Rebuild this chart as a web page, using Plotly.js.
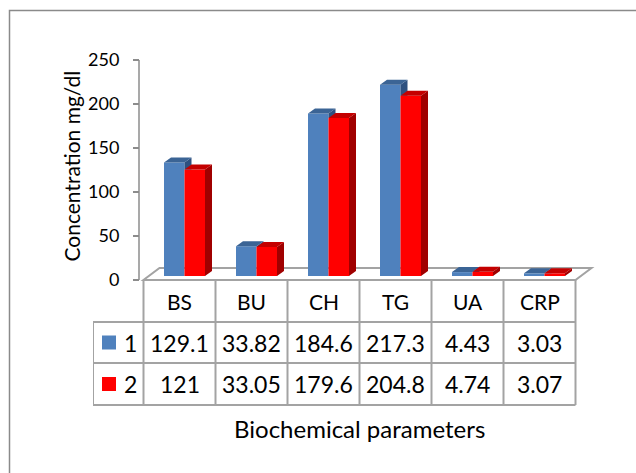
<!DOCTYPE html>
<html>
<head>
<meta charset="utf-8">
<script src="https://cdn.plot.ly/plotly-3.0.1.min.js"></script>
<style>
html,body{margin:0;padding:0;background:#fff;}
#chart{width:636px;height:473px;}
</style>
</head>
<body>
<div id="chart"></div>
<script>
// ---- data ----
const categories = ['BS', 'BU', 'CH', 'TG', 'UA', 'CRP'];
const series1 = [129.1, 33.82, 184.6, 217.3, 4.43, 3.03];
const series2 = [121, 33.05, 179.6, 204.8, 4.74, 3.07];
const seriesNames = ['1', '2'];
const yTickVals = [0, 50, 100, 150, 200, 250];
const xTitle = 'Biochemical parameters';
const yTitle = 'Concentration mg/dl';

// ---- geometry (pixel layout helpers) ----
const W = 636, H = 473;
const PL = 93, PR = 600, PT = 55, PB = 410;          // plot area in pixels
const CAT_PX = 72, CAT0_PX = 179.5;                    // px per category, centre of first
const UNIT_PX = 0.88, ZERO_PX = 280;                   // px per value unit, y of zero
const toX = p => (p - CAT0_PX) / CAT_PX;
const toY = p => (ZERO_PX - p) / UNIT_PX;
const pxX = p => (p - PL) / (PR - PL);
const pxY = p => (PB - p) / (PB - PT);

const FONT = 'Lato, "Open Sans", Arial, sans-serif';
const GRID = '#a3a3a3';

const colors = {
  s1: {front: '#4f81bd', top: '#3b6495', side: '#2e5180'},
  s2: {front: '#ff0000', top: '#c40000', side: '#a00000'}
};

const base = 4 / UNIT_PX;          // bars stand slightly behind the front edge
const bw = 20.5 / CAT_PX;          // bar width
const off1 = -15.5 / CAT_PX;
const off2 = off1 + bw;
const ddx = 7 / CAT_PX, ddy = 5 / UNIT_PX;   // bar depth
const fdx = 16 / CAT_PX, fdy = 12 / UNIT_PX; // floor depth

const idx = categories.map((c, i) => i);

function poly(pts, X, Y) {
  pts.forEach(p => { X.push(p[0]); Y.push(p[1]); });
  X.push(null); Y.push(null);
}

// faces
const b1TopX = [], b1TopY = [], b1SideX = [], b1SideY = [];
const b2TopX = [], b2TopY = [], b2SideX = [], b2SideY = [];
idx.forEach(i => {
  const v1 = series1[i], v2 = series2[i];
  const x0 = i + off1, x1 = x0 + bw, x2 = x1 + bw;
  const t1 = base + v1, t2 = base + v2;
  poly([[x0, t1], [x1, t1], [x1 + ddx, t1 + ddy], [x0 + ddx, t1 + ddy]], b1TopX, b1TopY);
  if (t1 + ddy > t2) {
    const lo = Math.min(t2, t1);
    poly([[x1, lo], [x1, t1], [x1 + ddx, t1 + ddy], [x1 + ddx, lo]], b1SideX, b1SideY);
  }
  poly([[x2, base], [x2, t2], [x2 + ddx, t2 + ddy], [x2 + ddx, base + ddy]], b2SideX, b2SideY);
  poly([[x1, t2], [x2, t2], [x2 + ddx, t2 + ddy], [x1 + ddx, t2 + ddy]], b2TopX, b2TopY);
});

function face(X, Y, col) {
  return {type: 'scatter', mode: 'lines', x: X, y: Y, fill: 'toself', fillcolor: col,
          line: {width: 0, color: col}, hoverinfo: 'skip', showlegend: false};
}

const traces = [
  {type: 'bar', name: seriesNames[0], x: idx, y: series1, base: base, width: bw, offset: off1,
   marker: {color: colors.s1.front, line: {width: 0}}, showlegend: false},
  {type: 'bar', name: seriesNames[1], x: idx, y: series2, base: base, width: bw, offset: off2,
   marker: {color: colors.s2.front, line: {width: 0}}, showlegend: false},
  face(b1SideX, b1SideY, colors.s1.side),
  face(b1TopX, b1TopY, colors.s1.top),
  face(b2SideX, b2SideY, colors.s2.side),
  face(b2TopX, b2TopY, colors.s2.top)
];

// ---- shapes: floor, axis line, table grid, border ----
const shapes = [];
const L = (x0, y0, x1, y1, extra) => Object.assign({type: 'line', xref: 'x', yref: 'y', x0, y0, x1, y1,
  layer: 'below', line: {color: GRID, width: 2}}, extra || {});

const nC = categories.length;
const left = -0.5, right = nC - 0.5;
shapes.push({type: 'path', xref: 'x', yref: 'y', layer: 'below',
  path: `M${left},0 L${right},0 L${right + fdx},${fdy} L${left + fdx},${fdy} Z`,
  fillcolor: '#ffffff', line: {color: GRID, width: 2}});
const axX = toX(139);
shapes.push(L(axX, 0, axX, yTickVals[yTickVals.length - 1], {line: {color: '#8c8c8c', width: 1.5}}));

const rowY = [toY(280), toY(322), toY(363), toY(405)];
const legX = toX(93);
shapes.push(L(legX, rowY[1], right, rowY[1]));
shapes.push(L(legX, rowY[2], right, rowY[2]));
shapes.push(L(legX, rowY[3], right, rowY[3]));
shapes.push(L(legX, rowY[1], legX, rowY[3]));
for (let k = 0; k <= nC; k++) {
  shapes.push(L(left + k, rowY[0], left + k, rowY[3]));
}
const keyCols = [colors.s1.front, colors.s2.front];
[342.5, 384].forEach((cy, r) => {
  shapes.push({type: 'rect', xref: 'x', yref: 'y', layer: 'above',
    x0: toX(102), x1: toX(116), y0: toY(cy + 7), y1: toY(cy - 7),
    fillcolor: keyCols[r], line: {width: 0}});
});
shapes.push({type: 'rect', xref: 'paper', yref: 'paper', layer: 'below',
  x0: pxX(9.5), x1: pxX(W + 50), y0: pxY(H + 50), y1: pxY(10.5),
  fillcolor: 'rgba(0,0,0,0)', line: {color: '#8a8a8a', width: 1.5}});

// ---- annotations ----
const annotations = [];
const ann = (x, y, text, size, extra) => Object.assign({x, y, xref: 'x', yref: 'y', text, showarrow: false,
  xanchor: 'center', yanchor: 'middle', font: {family: FONT, size, color: '#000'}}, extra || {});

const catRowY = toY(301), r1Y = toY(342.5), r2Y = toY(384);
categories.forEach((c, i) => annotations.push(ann(i, catRowY, c, 21)));
series1.forEach((v, i) => annotations.push(ann(i, r1Y, String(v), 23)));
series2.forEach((v, i) => annotations.push(ann(i, r2Y, String(v), 23)));
annotations.push(ann(toX(130), r1Y, seriesNames[0], 23));
annotations.push(ann(toX(130), r2Y, seriesNames[1], 23));
annotations.push(ann(pxX(359), pxY(428), xTitle, 24, {xref: 'paper', yref: 'paper'}));
annotations.push(ann(pxX(71), pxY(166.5), yTitle, 21, {xref: 'paper', yref: 'paper', textangle: -90}));

const layout = {
  width: W, height: H,
  margin: {l: PL, r: W - PR, t: PT, b: H - PB, pad: 0},
  paper_bgcolor: '#ffffff', plot_bgcolor: 'rgba(0,0,0,0)',
  barmode: 'overlay',
  showlegend: false,
  xaxis: {range: [toX(PL), toX(PR)], visible: false, fixedrange: true},
  yaxis: {range: [toY(PB), toY(PT)], anchor: 'free', position: pxX(139), side: 'left',
          tickmode: 'array', tickvals: yTickVals, ticktext: yTickVals.map(String),
          ticks: 'outside', ticklen: 6, tickcolor: '#8c8c8c', tickwidth: 1.5,
          showline: false, showgrid: false, zeroline: false, ticklabelstandoff: 10,
          tickfont: {family: FONT, size: 18, color: '#000'}, fixedrange: true},
  shapes, annotations
};

Plotly.newPlot('chart', traces, layout, {displayModeBar: false, staticPlot: true});
</script>
</body>
</html>
